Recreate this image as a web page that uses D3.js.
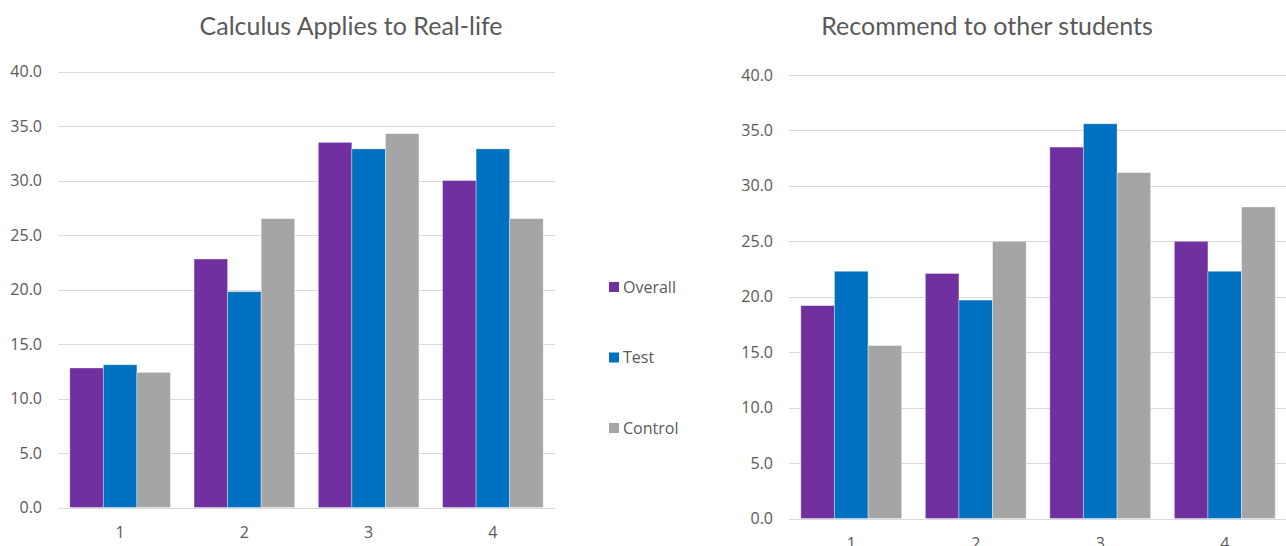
<!DOCTYPE html>
<html>
<head>
<meta charset="utf-8">
<script src="https://cdn.jsdelivr.net/npm/d3@7"></script>
<style>
  body { margin: 0; background: #fff; }
  svg { display: block; }
  .tick-label { font-family: "Open Sans", sans-serif; font-size: 16px; fill: #595959; }
  .chart-title { font-family: Lato, "Open Sans", sans-serif; font-size: 25px; fill: #595959; }
</style>
</head>
<body>
<svg id="chart"></svg>
<script>
// data
const categories = ["1", "2", "3", "4"];
const seriesNames = ["Overall", "Test", "Control"];
const seriesColors = ["#7030A0", "#0070C0", "#A5A5A5"];
const yTicks = [0, 5, 10, 15, 20, 25, 30, 35, 40];

const realLifeOverall = [12.8, 22.8, 33.5, 30.0];
const realLifeTest = [13.1, 19.8, 32.9, 32.9];
const realLifeControl = [12.4, 26.5, 34.3, 26.5];

const recommendOverall = [19.2, 22.1, 33.5, 25.0];
const recommendTest = [22.3, 19.7, 35.6, 22.3];
const recommendControl = [15.6, 25.0, 31.2, 28.1];

const width = 1286;
const height = 546;

const svg = d3.select('#chart')
  .attr('width', width)
  .attr('height', height);

function drawChart(opts) {
  const { title, titleX, left, right, top, bottom, labelX, values } = opts;

  const x0 = d3.scaleBand()
    .domain(categories)
    .range([left, right])
    .paddingInner(0.19)
    .paddingOuter(0.095);

  const x1 = d3.scaleBand()
    .domain(seriesNames)
    .range([0, x0.bandwidth()]);

  const y = d3.scaleLinear()
    .domain([0, 40])
    .range([bottom, top]);

  const g = svg.append('g');

  // gridlines
  g.selectAll('line.grid')
    .data(yTicks)
    .enter()
    .append('line')
    .attr('class', 'grid')
    .attr('x1', left)
    .attr('x2', right)
    .attr('y1', (d) => Math.round(y(d)) + 0.5)
    .attr('y2', (d) => Math.round(y(d)) + 0.5)
    .attr('stroke', '#d9d9d9')
    .attr('stroke-width', 1);

  // y labels
  g.selectAll('text.ylab')
    .data(yTicks)
    .enter()
    .append('text')
    .attr('class', 'tick-label ylab')
    .attr('x', labelX)
    .attr('y', (d) => y(d))
    .attr('dy', '0.35em')
    .attr('text-anchor', 'end')
    .text((d) => d.toFixed(1));

  // bars
  const rows = categories.map((c, i) => ({
    cat: c,
    vals: seriesNames.map((s, j) => ({ name: s, color: seriesColors[j], value: values[j][i] }))
  }));

  const groups = g.selectAll('g.cat')
    .data(rows)
    .enter()
    .append('g')
    .attr('class', 'cat')
    .attr('transform', (d) => `translate(${x0(d.cat)}, 0)`);

  groups.selectAll('rect')
    .data((d) => d.vals)
    .enter()
    .append('rect')
    .attr('x', (d) => x1(d.name))
    .attr('width', x1.bandwidth())
    .attr('y', (d) => y(d.value))
    .attr('height', (d) => y(0) - y(d.value))
    .attr('fill', (d) => d.color)
    .attr('stroke', '#ffffff')
    .attr('stroke-opacity', 0.45)
    .attr('stroke-width', 0.8);

  // x labels (the right chart's labels sit at the bottom edge, cut off as in the source)
  g.selectAll('text.xlab')
    .data(categories)
    .enter()
    .append('text')
    .attr('class', 'tick-label xlab')
    .attr('x', (d) => x0(d) + x0.bandwidth() / 2)
    .attr('y', bottom + 30)
    .attr('text-anchor', 'middle')
    .text((d) => d);

  // title
  g.append('text')
    .attr('class', 'chart-title')
    .attr('x', titleX)
    .attr('y', 35)
    .attr('text-anchor', 'middle')
    .text(title);
}

drawChart({
  title: 'Calculus Applies to Real-life',
  titleX: 351,
  left: 58, right: 555, top: 71.5, bottom: 507.5,
  labelX: 42,
  values: [realLifeOverall, realLifeTest, realLifeControl]
});

drawChart({
  title: 'Recommend to other students',
  titleX: 987,
  left: 789, right: 1287, top: 75, bottom: 518.5,
  labelX: 773,
  values: [recommendOverall, recommendTest, recommendControl]
});

// legend
const legend = svg.append('g')
  .selectAll('g')
  .data(seriesNames)
  .enter()
  .append('g')
  .attr('transform', (d, i) => `translate(609, ${287 + i * 70.5})`);

legend.append('rect')
  .attr('x', 0)
  .attr('y', -5)
  .attr('width', 10)
  .attr('height', 10)
  .attr('fill', (d, i) => seriesColors[i]);

legend.append('text')
  .attr('class', 'tick-label')
  .attr('x', 14)
  .attr('dy', '0.35em')
  .text((d) => d);
</script>
</body>
</html>
